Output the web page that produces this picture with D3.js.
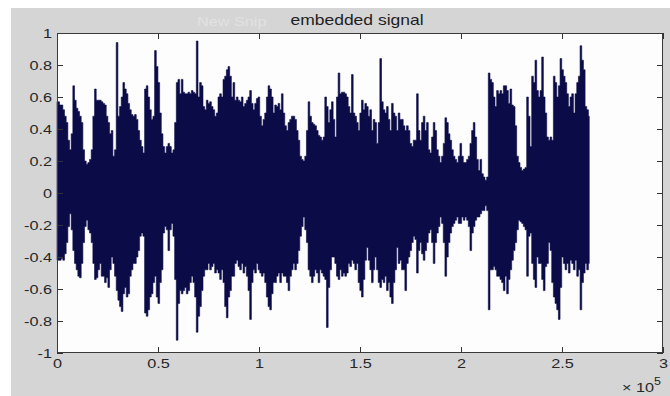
<!DOCTYPE html>
<html>
<head>
<meta charset="utf-8">
<script src="https://cdn.jsdelivr.net/npm/d3@7"></script>
<style>
  html, body { margin: 0; padding: 0; background: #ffffff; }
  svg { display: block; }
  text { font-family: "Liberation Sans", Arial, Helvetica, sans-serif; }
</style>
</head>
<body>
<svg id="chart" width="670" height="396"></svg>
<script>
// ---------------- data ----------------
const chartTitle = "embedded signal";
// envelope read every `sampleStep` samples (upper = max, lower = min of the signal)
const sampleStep = 826;
const upperEnvelope = [
  0.57,0.57,0.55,0.55,0.52,0.48,0.44,0.33,0.27,0.37,
  0.67,0.58,0.53,0.51,0.48,0.44,0.27,0.20,0.18,0.19,
  0.21,0.27,0.48,0.65,0.58,0.58,0.58,0.57,0.56,0.55,
  0.48,0.44,0.37,0.39,0.23,0.27,0.94,0.48,0.54,0.60,
  0.69,0.65,0.62,0.56,0.52,0.49,0.48,0.49,0.46,0.39,
  0.33,0.29,0.25,
  0.65,0.67,0.60,0.52,0.46,0.48,0.89,0.79,0.69,0.50,
  0.37,0.29,0.25,0.29,0.31,0.29,0.25,0.27,0.44,0.69,
  0.71,0.62,0.71,0.63,0.62,0.62,0.63,0.62,0.64,0.63,
  0.62,0.95,0.60,0.69,0.67,0.54,0.52,0.58,0.56,0.57,
  0.54,0.52,0.48,0.50,0.60,0.62,0.60,0.71,0.73,0.77,
  0.79,0.73,0.60,0.69,
  0.58,0.60,0.58,0.57,0.60,0.54,0.56,0.58,0.60,0.64,
  0.56,0.52,0.56,0.59,0.60,0.48,0.42,0.46,0.50,0.60,
  0.67,0.65,0.60,0.50,0.55,0.54,0.56,0.52,0.62,0.50,
  0.42,0.39,0.44,0.46,0.48,0.48,0.46,0.39,0.33,0.23,
  0.21,0.20,0.23,0.39,0.57,0.48,0.44,0.43,0.42,0.39,
  0.36,0.35,0.33,0.35,
  0.60,0.54,0.44,0.52,0.57,0.46,0.35,0.60,0.75,0.62,
  0.63,0.63,0.62,0.60,0.54,0.50,0.74,0.50,0.48,0.44,
  0.39,0.50,0.58,0.52,0.56,0.54,0.48,0.52,0.39,0.46,
  0.44,0.31,0.44,0.84,0.57,0.52,0.50,0.54,0.46,0.39,
  0.56,0.50,0.48,0.39,0.50,0.46,0.46,0.42,0.39,0.42,
  0.39,0.31,0.29,0.33,
  0.33,0.62,0.39,0.33,0.44,0.48,0.39,0.44,0.27,0.25,
  0.35,0.44,0.39,0.27,0.23,0.19,0.23,0.31,0.47,0.44,
  0.37,0.33,0.27,0.23,0.21,0.19,0.23,0.31,0.23,0.19,
  0.19,0.21,0.23,0.31,0.39,0.44,0.35,0.21,0.14,0.21,
  0.12,0.10,0.08,0.10,0.75,0.71,0.69,0.60,0.54,0.64,
  0.62,0.64,0.62,0.67,
  0.67,0.64,0.56,0.65,0.55,0.54,0.42,0.23,0.19,0.16,
  0.14,0.15,0.16,0.60,0.48,0.29,0.73,0.69,0.83,0.64,
  0.60,0.64,0.85,0.60,0.50,0.35,0.33,0.35,0.33,0.73,
  0.69,0.60,0.67,0.84,0.77,0.73,0.69,0.62,0.54,0.60,
  0.62,0.50,0.62,0.69,0.73,0.92,0.83,0.77,0.54,0.52,
  0.48
];
const lowerEnvelope = [
  -0.42,-0.42,-0.42,-0.41,-0.42,-0.38,-0.31,-0.21,-0.13,-0.23,
  -0.36,-0.44,-0.48,-0.52,-0.53,-0.44,-0.31,-0.21,-0.17,-0.23,
  -0.25,-0.31,-0.44,-0.54,-0.53,-0.48,-0.44,-0.52,-0.52,-0.56,
  -0.53,-0.59,-0.48,-0.40,-0.44,-0.52,-0.61,-0.67,-0.71,-0.74,
  -0.63,-0.59,-0.65,-0.63,-0.52,-0.48,-0.44,-0.44,-0.40,-0.36,
  -0.27,-0.25,-0.27,
  -0.75,-0.77,-0.73,-0.65,-0.63,-0.56,-0.52,-0.65,-0.69,-0.56,
  -0.48,-0.25,-0.21,-0.23,-0.36,-0.23,-0.19,-0.27,-0.54,-0.92,
  -0.69,-0.61,-0.63,-0.61,-0.59,-0.63,-0.61,-0.56,-0.52,-0.56,
  -0.65,-0.87,-0.77,-0.71,-0.61,-0.52,-0.48,-0.48,-0.44,-0.48,
  -0.46,-0.44,-0.50,-0.48,-0.50,-0.54,-0.48,-0.56,-0.71,-0.78,
  -0.65,-0.61,-0.52,-0.52,
  -0.44,-0.42,-0.46,-0.48,-0.44,-0.50,-0.46,-0.52,-0.61,-0.79,
  -0.56,-0.48,-0.50,-0.44,-0.48,-0.50,-0.52,-0.50,-0.56,-0.65,
  -0.71,-0.73,-0.63,-0.56,-0.56,-0.52,-0.50,-0.56,-0.50,-0.52,
  -0.52,-0.56,-0.61,-0.52,-0.48,-0.44,-0.48,-0.44,-0.36,-0.27,
  -0.21,-0.15,-0.23,-0.31,-0.48,-0.52,-0.56,-0.52,-0.48,-0.50,
  -0.56,-0.48,-0.50,-0.52,
  -0.54,-0.84,-0.59,-0.48,-0.40,-0.40,-0.44,-0.52,-0.54,-0.48,
  -0.52,-0.50,-0.52,-0.50,-0.44,-0.46,-0.42,-0.44,-0.48,-0.44,
  -0.56,-0.61,-0.65,-0.54,-0.42,-0.34,-0.42,-0.48,-0.56,-0.48,
  -0.40,-0.48,-0.56,-0.59,-0.54,-0.56,-0.52,-0.61,-0.56,-0.65,
  -0.69,-0.56,-0.48,-0.34,-0.44,-0.42,-0.48,-0.48,-0.61,-0.44,
  -0.40,-0.36,-0.31,-0.27,
  -0.29,-0.50,-0.36,-0.31,-0.38,-0.42,-0.36,-0.31,-0.25,-0.23,
  -0.31,-0.44,-0.31,-0.25,-0.21,-0.15,-0.19,-0.31,-0.52,-0.40,
  -0.31,-0.25,-0.21,-0.19,-0.17,-0.15,-0.19,-0.19,-0.15,-0.17,
  -0.15,-0.17,-0.21,-0.36,-0.25,-0.21,-0.17,-0.15,-0.15,-0.13,
  -0.11,-0.11,-0.08,-0.11,-0.73,-0.48,-0.48,-0.46,-0.48,-0.52,
  -0.52,-0.54,-0.56,-0.61,
  -0.52,-0.63,-0.54,-0.48,-0.42,-0.36,-0.31,-0.23,-0.17,-0.18,
  -0.19,-0.21,-0.23,-0.52,-0.27,-0.25,-0.44,-0.54,-0.59,-0.40,
  -0.44,-0.44,-0.54,-0.61,-0.46,-0.44,-0.31,-0.36,-0.56,-0.65,
  -0.69,-0.73,-0.79,-0.59,-0.40,-0.44,-0.48,-0.44,-0.50,-0.42,
  -0.44,-0.48,-0.42,-0.52,-0.48,-0.73,-0.56,-0.50,-0.44,-0.48,
  -0.44
];
const xTickValues = [0, 50000, 100000, 150000, 200000, 250000, 300000];
const xTickLabels = ["0", "0.5", "1", "1.5", "2", "2.5", "3"];
const yTickValues = [-1, -0.8, -0.6, -0.4, -0.2, 0, 0.2, 0.4, 0.6, 0.8, 1];
const yTickLabels = ["-1", "-0.8", "-0.6", "-0.4", "-0.2", "0", "0.2", "0.4", "0.6", "0.8", "1"];
const xExponentBase = "× 10";
const xExponent = "5";
const ghostText = "New Snip";

// ---------------- layout ----------------
const W = 670, H = 396;
const plot = { left: 57, right: 663, top: 33, bottom: 353 };
const textStretch = 1.25;       // the source image is horizontally stretched
const signalColor = "#0b0b48";
const panelColor = "#d5d5d5";
const inkColor = "#262626";

const svg = d3.select("#chart");

// figure panel
svg.append("rect").attr("x", 11).attr("y", 8).attr("width", W - 11).attr("height", H - 8)
   .attr("fill", panelColor);

// ghost overlay text
svg.append("text").attr("transform", `translate(197,26) scale(${textStretch},1)`)
   .attr("font-size", 13).attr("fill", "#e2e2e2").text(ghostText);

// axes background
svg.append("rect").attr("x", plot.left).attr("y", plot.top)
   .attr("width", plot.right - plot.left).attr("height", plot.bottom - plot.top)
   .attr("fill", "#fdfdfd");

const x = d3.scaleLinear().domain([0, 300000]).range([plot.left, plot.right]);
const y = d3.scaleLinear().domain([-1, 1]).range([plot.bottom, plot.top]);

const data = upperEnvelope.map((u, i) => ({ t: i * sampleStep, hi: u, lo: lowerEnvelope[i] }));

const area = d3.area()
  .x(d => x(d.t))
  .y0(d => y(d.lo))
  .y1(d => y(d.hi))
  .curve(d3.curveStep);

svg.append("path").datum(data)
   .attr("d", area)
   .attr("fill", signalColor)
   .attr("stroke", signalColor)
   .attr("stroke-width", 0.6)
   .attr("stroke-linejoin", "miter");

// axes
const tickLen = 6;
const gx = svg.append("g").attr("transform", `translate(0,${plot.bottom})`)
  .call(d3.axisBottom(x).tickValues(xTickValues)
        .tickFormat((d, i) => xTickLabels[i]).tickSizeInner(-tickLen).tickSizeOuter(0).tickPadding(6));
const gy = svg.append("g").attr("transform", `translate(${plot.left},0)`)
  .call(d3.axisLeft(y).tickValues(yTickValues)
        .tickFormat((d, i) => yTickLabels[i]).tickSizeInner(-tickLen).tickSizeOuter(0).tickPadding(5));
const gt = svg.append("g").attr("transform", `translate(0,${plot.top})`)
  .call(d3.axisTop(x).tickValues(xTickValues).tickFormat("").tickSizeInner(-tickLen).tickSizeOuter(0));
const gr = svg.append("g").attr("transform", `translate(${plot.right},0)`)
  .call(d3.axisRight(y).tickValues(yTickValues).tickFormat("").tickSizeInner(-tickLen).tickSizeOuter(0));

[gx, gy, gt, gr].forEach(g => {
  g.select(".domain").remove();
  g.selectAll(".tick line").attr("stroke", "#333").attr("stroke-width", 1);
  g.selectAll("text").attr("font-size", 13).attr("fill", inkColor)
   .attr("font-family", '"Liberation Sans", Arial, Helvetica, sans-serif');
});
gx.selectAll(".tick text").attr("transform", `scale(${textStretch},1)`);
gy.selectAll(".tick text").attr("x", -5 / textStretch).attr("transform", `scale(${textStretch},1)`);

// box
svg.append("rect").attr("x", plot.left + 0.5).attr("y", plot.top + 0.5)
   .attr("width", plot.right - plot.left - 1).attr("height", plot.bottom - plot.top - 1)
   .attr("fill", "none").attr("stroke", "#3a3a3a").attr("stroke-width", 1);

// title
svg.append("text").attr("transform", `translate(357,24.5) scale(${textStretch},1)`)
   .attr("text-anchor", "middle").attr("font-size", 14).attr("fill", "#1e1e1e")
   .text(chartTitle);

// exponent label
const ex = svg.append("text").attr("transform", `translate(622,392) scale(${textStretch},1)`)
   .attr("font-size", 13).attr("fill", inkColor);
ex.append("tspan").text(xExponentBase);
ex.append("tspan").attr("dy", -7).attr("font-size", 10).text(xExponent);
</script>
</body>
</html>
